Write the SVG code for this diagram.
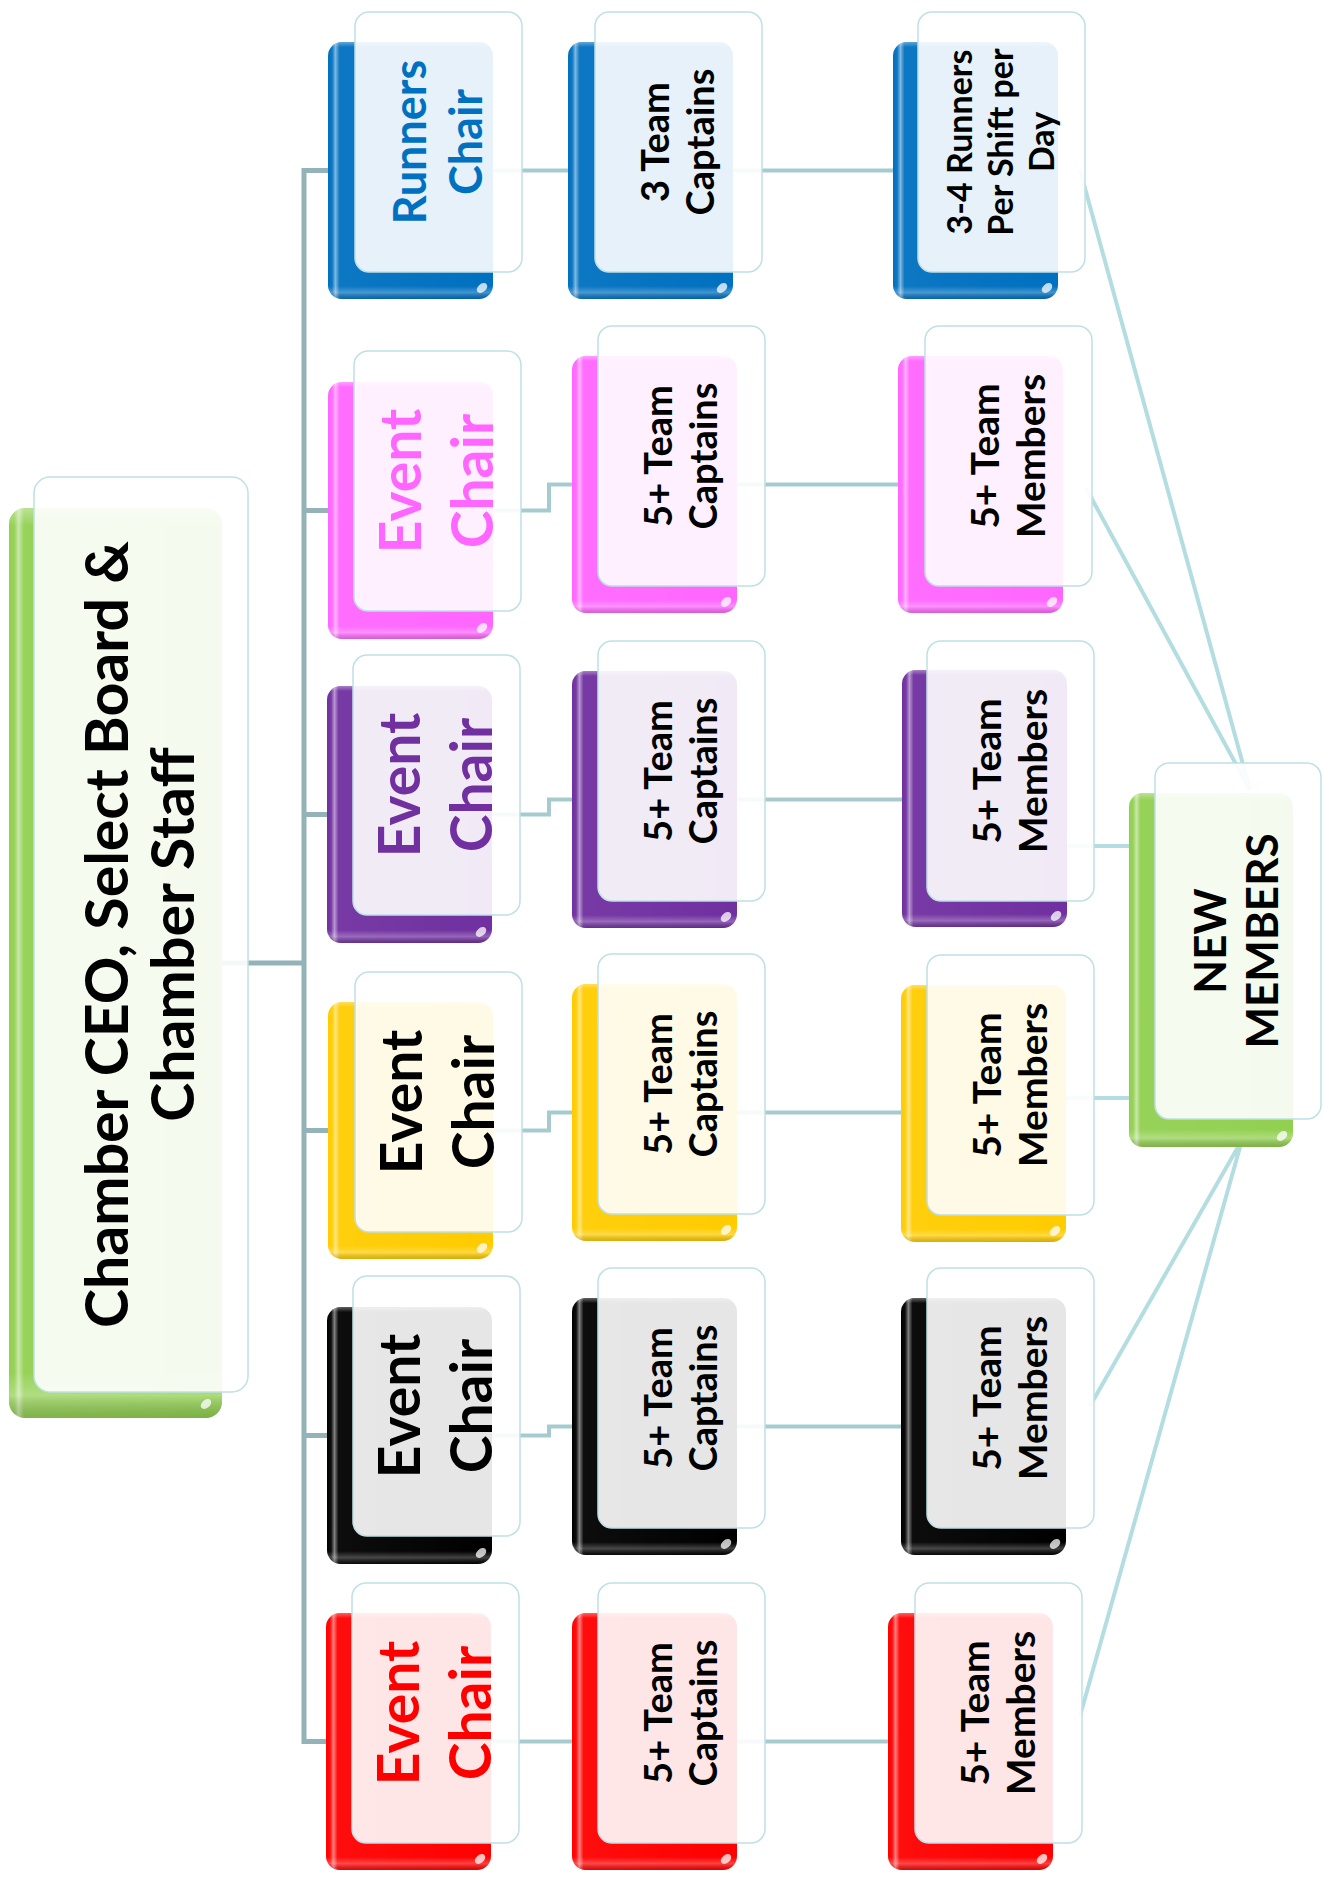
<svg xmlns="http://www.w3.org/2000/svg" width="1323" height="1881" viewBox="0 0 1323 1881">
<defs>
<linearGradient id="shH" x1="0" y1="0" x2="1" y2="0">
<stop offset="0" stop-color="#fff" stop-opacity="0"/>
<stop offset="0.025" stop-color="#fff" stop-opacity="0.05"/>
<stop offset="0.045" stop-color="#fff" stop-opacity="0.5"/>
<stop offset="0.07" stop-color="#fff" stop-opacity="0.05"/>
<stop offset="1" stop-color="#fff" stop-opacity="0"/>
</linearGradient>
<linearGradient id="shV" x1="0" y1="0" x2="0" y2="1">
<stop offset="0" stop-color="#fff" stop-opacity="0.35"/>
<stop offset="0.02" stop-color="#fff" stop-opacity="0"/>
<stop offset="0.95" stop-color="#fff" stop-opacity="0"/>
<stop offset="0.975" stop-color="#fff" stop-opacity="0.25"/>
<stop offset="1" stop-color="#000" stop-opacity="0.15"/>
</linearGradient>
</defs>
<style>
.base{fill:currentColor}
.shH{fill:url(#shH)}
.shV{fill:url(#shV)}
.hl{fill:#fff;opacity:0.75}
.glass{fill:#fff;fill-opacity:0.9;stroke:#bfe0e5;stroke-width:1.5}
text{font-family:Lato,"Liberation Sans",sans-serif;font-weight:bold;text-anchor:middle}
.trunk{fill:none;stroke:#93b3b8;stroke-width:5}
.br{fill:none;stroke:#a5cbcf;stroke-width:4}
.nm{fill:none;stroke:#b4dde1;stroke-width:4}
</style>

<g id="connectors">
<path class="trunk" d="M222 963 H304 M304 168 V1744 M302 170.5 H330 M302 510.5 H330 M302 814.5 H330 M302 1130.5 H330 M302 1435.5 H330 M302 1741.5 H330"/>
<path class="br" d="M490 170.5 H570 M490 510.5 H549 V484.5 H574 M490 814.5 H549 V799.5 H574 M490 1130.5 H549 V1112.5 H574 M490 1435.5 H549 V1426.5 H574 M490 1741.5 H574"/>
<path class="br" d="M732 170.5 H895 M732 484.5 H900 M732 799.5 H904 M732 1112.5 H903 M732 1426.5 H903 M732 1741.5 H890"/>
<path class="nm" d="M1080 170 L1250 790 M1086 488 L1250 790 M1060 846 H1135 M1060 1098 H1135 M1090 1406 L1242 1140 M1080 1716 L1242 1140"/>
</g>

<g id="root" color="#92d050">
<rect class="base" x="9" y="508" width="213" height="910" rx="16"/>
<rect class="shH" x="9" y="508" width="213" height="910" rx="16"/>
<rect class="shV" x="9" y="508" width="213" height="910" rx="16"/>
<ellipse class="hl" cx="206" cy="1404" rx="6" ry="4" transform="rotate(-40 206 1404)"/>
<rect class="glass" x="34" y="477" width="214" height="915" rx="16"/>
<text transform="translate(141,934.5) rotate(-90)" font-size="59" fill="#000"><tspan x="0" y="-13">Chamber CEO, Select Board &amp;</tspan><tspan x="0" y="53">Chamber Staff</tspan></text>
</g>

<g id="runners-chair" color="#0070c0">
<rect class="base" x="328" y="42" width="165" height="257" rx="14"/>
<rect class="shH" x="328" y="42" width="165" height="257" rx="14"/>
<rect class="shV" x="328" y="42" width="165" height="257" rx="14"/>
<ellipse class="hl" cx="482" cy="288" rx="6" ry="4" transform="rotate(-40 482 288)"/>
<rect class="glass" x="355" y="12" width="167" height="260" rx="14"/>
<text transform="translate(438.5,142) rotate(-90)" font-size="45" fill="#0070c0"><tspan x="0" y="-13">Runners</tspan><tspan x="0" y="43">Chair</tspan></text>
</g>
<g id="runners-captains" color="#0070c0">
<rect class="base" x="568" y="42" width="165" height="257" rx="14"/>
<rect class="shH" x="568" y="42" width="165" height="257" rx="14"/>
<rect class="shV" x="568" y="42" width="165" height="257" rx="14"/>
<ellipse class="hl" cx="722" cy="288" rx="6" ry="4" transform="rotate(-40 722 288)"/>
<rect class="glass" x="595" y="12" width="167" height="260" rx="14"/>
<text transform="translate(678.5,142) rotate(-90)" font-size="38" fill="#000"><tspan x="0" y="-10">3 Team</tspan><tspan x="0" y="35">Captains</tspan></text>
</g>
<g id="runners-members" color="#0070c0">
<rect class="base" x="893" y="42" width="165" height="257" rx="14"/>
<rect class="shH" x="893" y="42" width="165" height="257" rx="14"/>
<rect class="shV" x="893" y="42" width="165" height="257" rx="14"/>
<ellipse class="hl" cx="1047" cy="288" rx="6" ry="4" transform="rotate(-40 1047 288)"/>
<rect class="glass" x="918" y="12" width="167" height="260" rx="14"/>
<text transform="translate(1001.5,142) rotate(-90)" font-size="34" fill="#000"><tspan x="0" y="-30">3-4 Runners</tspan><tspan x="0" y="11">Per Shift per</tspan><tspan x="0" y="52">Day</tspan></text>
</g>

<g id="pink-chair" color="#ff66ff">
<rect class="base" x="328" y="382" width="165" height="257" rx="14"/>
<rect class="shH" x="328" y="382" width="165" height="257" rx="14"/>
<rect class="shV" x="328" y="382" width="165" height="257" rx="14"/>
<ellipse class="hl" cx="482" cy="628" rx="6" ry="4" transform="rotate(-40 482 628)"/>
<rect class="glass" x="354" y="351" width="167" height="260" rx="14"/>
<text transform="translate(437.5,481) rotate(-90)" font-size="57" fill="#ff66ff"><tspan x="0" y="-17">Event</tspan><tspan x="0" y="55">Chair</tspan></text>
</g>
<g id="pink-captains" color="#ff66ff">
<rect class="base" x="572" y="356" width="165" height="257" rx="14"/>
<rect class="shH" x="572" y="356" width="165" height="257" rx="14"/>
<rect class="shV" x="572" y="356" width="165" height="257" rx="14"/>
<ellipse class="hl" cx="726" cy="602" rx="6" ry="4" transform="rotate(-40 726 602)"/>
<rect class="glass" x="598" y="326" width="167" height="260" rx="14"/>
<text transform="translate(681.5,456) rotate(-90)" font-size="38" fill="#000"><tspan x="0" y="-10">5+ Team</tspan><tspan x="0" y="35">Captains</tspan></text>
</g>
<g id="pink-members" color="#ff66ff">
<rect class="base" x="898" y="356" width="165" height="257" rx="14"/>
<rect class="shH" x="898" y="356" width="165" height="257" rx="14"/>
<rect class="shV" x="898" y="356" width="165" height="257" rx="14"/>
<ellipse class="hl" cx="1052" cy="602" rx="6" ry="4" transform="rotate(-40 1052 602)"/>
<rect class="glass" x="925" y="326" width="167" height="260" rx="14"/>
<text transform="translate(1008.5,456) rotate(-90)" font-size="39" fill="#000"><tspan x="0" y="-10">5+ Team</tspan><tspan x="0" y="36">Members</tspan></text>
</g>

<g id="purple-chair" color="#7030a0">
<rect class="base" x="327" y="686" width="165" height="257" rx="14"/>
<rect class="shH" x="327" y="686" width="165" height="257" rx="14"/>
<rect class="shV" x="327" y="686" width="165" height="257" rx="14"/>
<ellipse class="hl" cx="481" cy="932" rx="6" ry="4" transform="rotate(-40 481 932)"/>
<rect class="glass" x="353" y="655" width="167" height="260" rx="14"/>
<text transform="translate(436.5,785) rotate(-90)" font-size="57" fill="#7030a0"><tspan x="0" y="-17">Event</tspan><tspan x="0" y="55">Chair</tspan></text>
</g>
<g id="purple-captains" color="#7030a0">
<rect class="base" x="572" y="671" width="165" height="257" rx="14"/>
<rect class="shH" x="572" y="671" width="165" height="257" rx="14"/>
<rect class="shV" x="572" y="671" width="165" height="257" rx="14"/>
<ellipse class="hl" cx="726" cy="917" rx="6" ry="4" transform="rotate(-40 726 917)"/>
<rect class="glass" x="598" y="641" width="167" height="260" rx="14"/>
<text transform="translate(681.5,771) rotate(-90)" font-size="38" fill="#000"><tspan x="0" y="-10">5+ Team</tspan><tspan x="0" y="35">Captains</tspan></text>
</g>
<g id="purple-members" color="#7030a0">
<rect class="base" x="902" y="670" width="165" height="257" rx="14"/>
<rect class="shH" x="902" y="670" width="165" height="257" rx="14"/>
<rect class="shV" x="902" y="670" width="165" height="257" rx="14"/>
<ellipse class="hl" cx="1056" cy="916" rx="6" ry="4" transform="rotate(-40 1056 916)"/>
<rect class="glass" x="927" y="641" width="167" height="260" rx="14"/>
<text transform="translate(1010.5,771) rotate(-90)" font-size="39" fill="#000"><tspan x="0" y="-10">5+ Team</tspan><tspan x="0" y="36">Members</tspan></text>
</g>

<g id="yellow-chair" color="#ffcc00">
<rect class="base" x="328" y="1002" width="165" height="257" rx="14"/>
<rect class="shH" x="328" y="1002" width="165" height="257" rx="14"/>
<rect class="shV" x="328" y="1002" width="165" height="257" rx="14"/>
<ellipse class="hl" cx="482" cy="1248" rx="6" ry="4" transform="rotate(-40 482 1248)"/>
<rect class="glass" x="355" y="972" width="167" height="260" rx="14"/>
<text transform="translate(438.5,1102) rotate(-90)" font-size="57" fill="#000"><tspan x="0" y="-17">Event</tspan><tspan x="0" y="55">Chair</tspan></text>
</g>
<g id="yellow-captains" color="#ffcc00">
<rect class="base" x="572" y="984" width="165" height="257" rx="14"/>
<rect class="shH" x="572" y="984" width="165" height="257" rx="14"/>
<rect class="shV" x="572" y="984" width="165" height="257" rx="14"/>
<ellipse class="hl" cx="726" cy="1230" rx="6" ry="4" transform="rotate(-40 726 1230)"/>
<rect class="glass" x="598" y="954" width="167" height="260" rx="14"/>
<text transform="translate(681.5,1084) rotate(-90)" font-size="38" fill="#000"><tspan x="0" y="-10">5+ Team</tspan><tspan x="0" y="35">Captains</tspan></text>
</g>
<g id="yellow-members" color="#ffcc00">
<rect class="base" x="901" y="985" width="165" height="257" rx="14"/>
<rect class="shH" x="901" y="985" width="165" height="257" rx="14"/>
<rect class="shV" x="901" y="985" width="165" height="257" rx="14"/>
<ellipse class="hl" cx="1055" cy="1231" rx="6" ry="4" transform="rotate(-40 1055 1231)"/>
<rect class="glass" x="927" y="955" width="167" height="260" rx="14"/>
<text transform="translate(1010.5,1085) rotate(-90)" font-size="39" fill="#000"><tspan x="0" y="-10">5+ Team</tspan><tspan x="0" y="36">Members</tspan></text>
</g>

<g id="black-chair" color="#000000">
<rect class="base" x="327" y="1307" width="165" height="257" rx="14"/>
<rect class="shH" x="327" y="1307" width="165" height="257" rx="14"/>
<rect class="shV" x="327" y="1307" width="165" height="257" rx="14"/>
<ellipse class="hl" cx="481" cy="1553" rx="6" ry="4" transform="rotate(-40 481 1553)"/>
<rect class="glass" x="353" y="1276" width="167" height="260" rx="14"/>
<text transform="translate(436.5,1406) rotate(-90)" font-size="57" fill="#000"><tspan x="0" y="-17">Event</tspan><tspan x="0" y="55">Chair</tspan></text>
</g>
<g id="black-captains" color="#000000">
<rect class="base" x="572" y="1298" width="165" height="257" rx="14"/>
<rect class="shH" x="572" y="1298" width="165" height="257" rx="14"/>
<rect class="shV" x="572" y="1298" width="165" height="257" rx="14"/>
<ellipse class="hl" cx="726" cy="1544" rx="6" ry="4" transform="rotate(-40 726 1544)"/>
<rect class="glass" x="598" y="1268" width="167" height="260" rx="14"/>
<text transform="translate(681.5,1398) rotate(-90)" font-size="38" fill="#000"><tspan x="0" y="-10">5+ Team</tspan><tspan x="0" y="35">Captains</tspan></text>
</g>
<g id="black-members" color="#000000">
<rect class="base" x="901" y="1298" width="165" height="257" rx="14"/>
<rect class="shH" x="901" y="1298" width="165" height="257" rx="14"/>
<rect class="shV" x="901" y="1298" width="165" height="257" rx="14"/>
<ellipse class="hl" cx="1055" cy="1544" rx="6" ry="4" transform="rotate(-40 1055 1544)"/>
<rect class="glass" x="927" y="1268" width="167" height="260" rx="14"/>
<text transform="translate(1010.5,1398) rotate(-90)" font-size="39" fill="#000"><tspan x="0" y="-10">5+ Team</tspan><tspan x="0" y="36">Members</tspan></text>
</g>

<g id="red-chair" color="#ff0000">
<rect class="base" x="326" y="1613" width="165" height="257" rx="14"/>
<rect class="shH" x="326" y="1613" width="165" height="257" rx="14"/>
<rect class="shV" x="326" y="1613" width="165" height="257" rx="14"/>
<ellipse class="hl" cx="480" cy="1859" rx="6" ry="4" transform="rotate(-40 480 1859)"/>
<rect class="glass" x="352" y="1583" width="167" height="260" rx="14"/>
<text transform="translate(435.5,1713) rotate(-90)" font-size="57" fill="#ff0000"><tspan x="0" y="-17">Event</tspan><tspan x="0" y="55">Chair</tspan></text>
</g>
<g id="red-captains" color="#ff0000">
<rect class="base" x="572" y="1613" width="165" height="257" rx="14"/>
<rect class="shH" x="572" y="1613" width="165" height="257" rx="14"/>
<rect class="shV" x="572" y="1613" width="165" height="257" rx="14"/>
<ellipse class="hl" cx="726" cy="1859" rx="6" ry="4" transform="rotate(-40 726 1859)"/>
<rect class="glass" x="598" y="1583" width="167" height="260" rx="14"/>
<text transform="translate(681.5,1713) rotate(-90)" font-size="38" fill="#000"><tspan x="0" y="-10">5+ Team</tspan><tspan x="0" y="35">Captains</tspan></text>
</g>
<g id="red-members" color="#ff0000">
<rect class="base" x="888" y="1613" width="165" height="257" rx="14"/>
<rect class="shH" x="888" y="1613" width="165" height="257" rx="14"/>
<rect class="shV" x="888" y="1613" width="165" height="257" rx="14"/>
<ellipse class="hl" cx="1042" cy="1859" rx="6" ry="4" transform="rotate(-40 1042 1859)"/>
<rect class="glass" x="915" y="1583" width="167" height="260" rx="14"/>
<text transform="translate(998.5,1713) rotate(-90)" font-size="39" fill="#000"><tspan x="0" y="-10">5+ Team</tspan><tspan x="0" y="36">Members</tspan></text>
</g>

<g id="new-members" color="#92d050">
<rect class="base" x="1129" y="793" width="164" height="354" rx="14"/>
<rect class="shH" x="1129" y="793" width="164" height="354" rx="14"/>
<rect class="shV" x="1129" y="793" width="164" height="354" rx="14"/>
<ellipse class="hl" cx="1282" cy="1136" rx="6" ry="4" transform="rotate(-40 1282 1136)"/>
<rect class="glass" x="1155" y="763" width="166" height="356" rx="14"/>
<text transform="translate(1238,941) rotate(-90)" font-size="44" fill="#000"><tspan x="0" y="-12">NEW</tspan><tspan x="0" y="40">MEMBERS</tspan></text>
</g>
</svg>
